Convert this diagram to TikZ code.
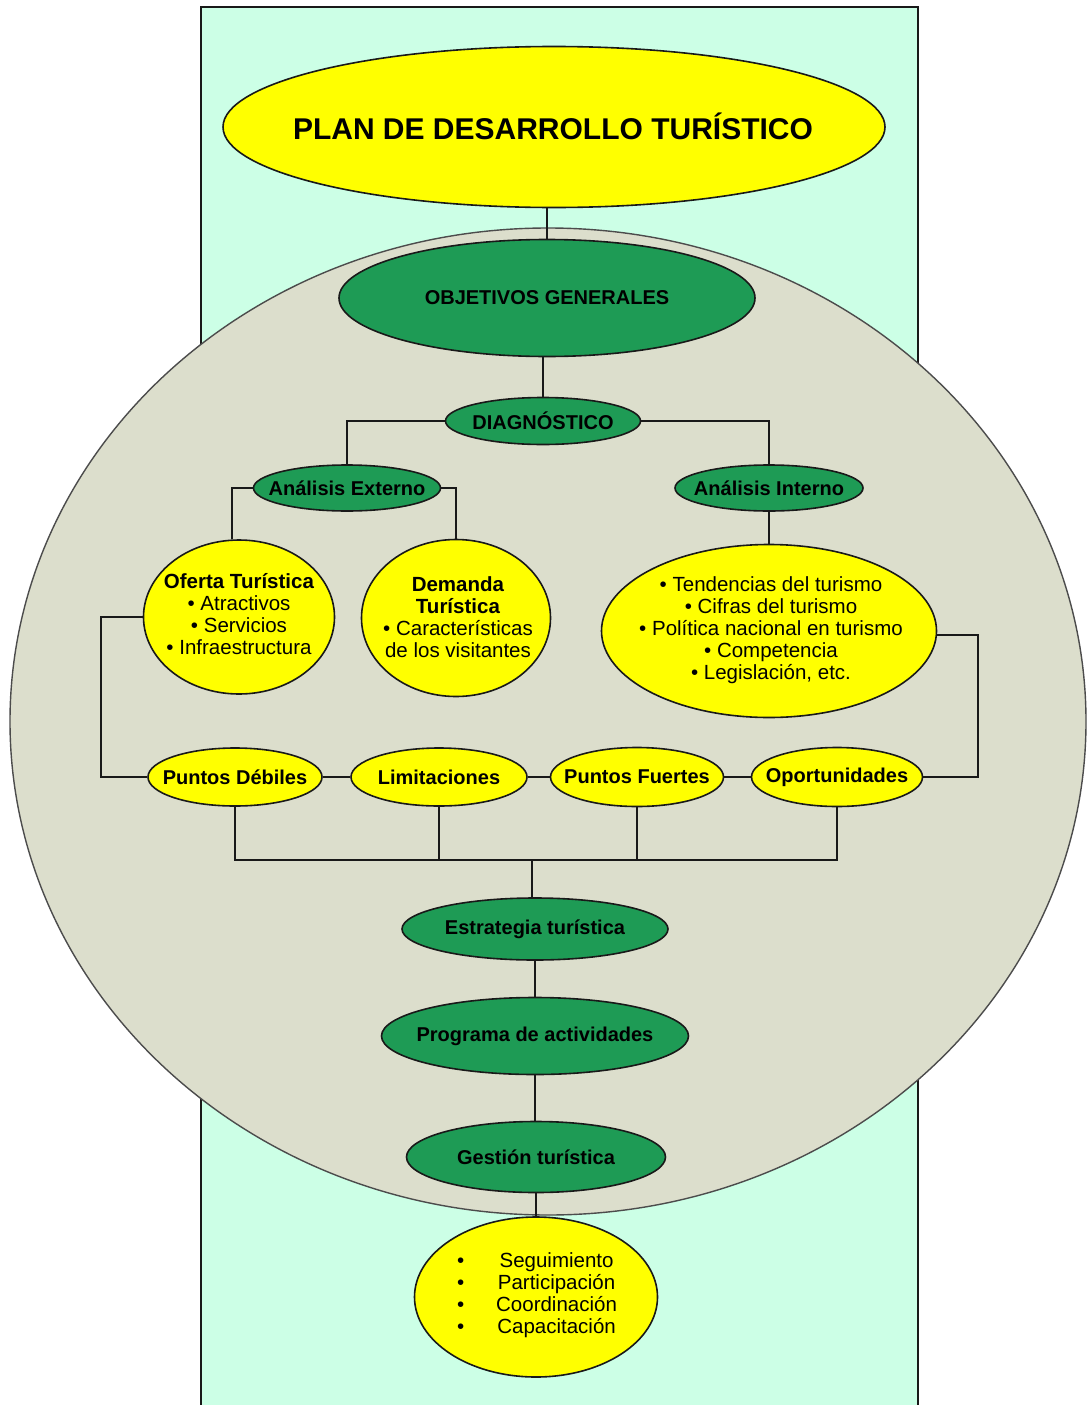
\documentclass[tikz,border=0pt]{standalone}
\usepackage{fontspec}
\setmainfont{Liberation Sans}
\usetikzlibrary{shapes.geometric}
\pgfdeclarelayer{back}
\pgfdeclarelayer{lines}
\pgfsetlayers{back,lines,main}
\definecolor{mint}{RGB}{204,255,230}
\definecolor{greyfill}{RGB}{220,222,204}
\definecolor{yel}{RGB}{255,255,0}
\definecolor{grn}{RGB}{30,155,85}
\definecolor{edge}{RGB}{25,25,25}
\begin{document}
\begin{tikzpicture}[x=1pt,y=-1pt,
  ell/.style={ellipse, draw=edge, line width=1.6pt, inner sep=0pt},
  yelbox/.style={ell, fill=yel},
  grnbox/.style={ell, fill=grn},
  txt/.style={align=center, font=\fontsize{20.5}{22}\selectfont, inner sep=0pt},
  btxt/.style={txt, font=\fontsize{20}{22}\selectfont\bfseries},
  conn/.style={line width=2pt, draw=edge}]
\useasboundingbox (0,0) rectangle (1088,1405);
\begin{pgfonlayer}{back}
  \fill[mint] (201,7) rectangle (918,1412);
  \draw[edge, line width=1.8pt] (201,1412) -- (201,7) -- (918,7) -- (918,1412);
  \draw[fill=greyfill, draw=black!70, line width=1.4pt] (548,721.5) ellipse [x radius=538, y radius=493.5];
\end{pgfonlayer}

% nodes
\node[yelbox, minimum width=662, minimum height=161] (plan) at (554,127) {};
\node[btxt, font=\fontsize{30}{34}\selectfont\bfseries] at (553,126) {PLAN DE DESARROLLO TURÍSTICO};

\node[grnbox, minimum width=416, minimum height=117] (obj) at (547,298) {};
\node[btxt] at (obj) {OBJETIVOS GENERALES};

\node[grnbox, minimum width=195, minimum height=47] (diag) at (543,421) {};
\node[btxt] at (diag) {DIAGNÓSTICO};

\node[grnbox, minimum width=187, minimum height=46] (ext) at (347,488) {};
\node[btxt] at (ext) {Análisis Externo};

\node[grnbox, minimum width=188, minimum height=46] (int) at (769,488) {};
\node[btxt] at (int) {Análisis Interno};

\node[yelbox, minimum width=191, minimum height=154] (oferta) at (239,617) {};
\node[txt] at (239,614) {\textbf{Oferta Turística}\\• Atractivos\\• Servicios\\• Infraestructura};

\node[yelbox, minimum width=189, minimum height=157] (dem) at (456,618) {};
\node[txt] at (458,617) {\textbf{Demanda}\\\textbf{Turística}\\• Características\\de los visitantes};

\node[yelbox, minimum width=335, minimum height=173] (tend) at (769,631) {};
\node[txt] at (771,630) {• Tendencias del turismo\\• Cifras del turismo\\• Política nacional en turismo\\• Competencia\\• Legislación, etc.};

\node[yelbox, minimum width=174, minimum height=58] (deb) at (235,777) {};
\node[btxt] at (deb) {Puntos Débiles};
\node[yelbox, minimum width=176, minimum height=58] (lim) at (439,777) {};
\node[btxt] at (lim) {Limitaciones};
\node[yelbox, minimum width=173, minimum height=59] (fue) at (637,777) {};
\node[btxt] at (fue) {Puntos Fuertes};
\node[yelbox, minimum width=171, minimum height=59] (opo) at (837,777) {};
\node[btxt] at (opo) {Oportunidades};

\node[grnbox, minimum width=266, minimum height=62] (est) at (535,929) {};
\node[btxt] at (est) {Estrategia turística};
\node[grnbox, minimum width=307, minimum height=77] (prog) at (535,1036) {};
\node[btxt] at (prog) {Programa de actividades};
\node[grnbox, minimum width=259, minimum height=71] (ges) at (536,1157) {};
\node[btxt] at (ges) {Gestión turística};

\node[yelbox, minimum width=243, minimum height=160] (seg) at (536,1297) {};
\node[txt] at (537,1296) {\begin{tabular}{@{}c@{\hspace{32pt}}c@{}}•&Seguimiento\\•&Participación\\•&Coordinación\\•&Capacitación\end{tabular}};

\coordinate (bus) at (532,860);

% connectors
\begin{pgfonlayer}{lines}
  \draw[conn] (obj.north |- plan.south) -- (obj.north);
  \draw[conn] (diag.north |- obj.south) -- (diag.north);
  \draw[conn] (diag.west) -| (ext.north);
  \draw[conn] (diag.east) -| (int.north);
  \draw[conn] (ext.west) -| ([xshift=-7pt]oferta.north);
  \draw[conn] (ext.east) -| (dem.north);
  \draw[conn] (int.south) -- (tend.north);
  \draw[conn] (oferta.west) -- ++(-42,0) |- (deb.west);
  \draw[conn] ([yshift=-4pt]tend.east) -- ++(41,0) |- (opo.east);
  \draw[conn] (deb.east) -- (lim.west);
  \draw[conn] (lim.east) -- (fue.west);
  \draw[conn] (fue.east) -- (opo.west);
  \draw[conn] (deb.south) |- (opo.south |- bus) -- (opo.south);
  \draw[conn] (lim.south) -- (lim.south |- bus);
  \draw[conn] (fue.south) -- (fue.south |- bus);
  \draw[conn] (bus) -- (bus |- est.north);
  \draw[conn] (est.south) -- (prog.north);
  \draw[conn] (prog.south) -- (prog.south |- ges.north);
  \draw[conn] (ges.south) -- (seg.north);
\end{pgfonlayer}
\end{tikzpicture}
\end{document}
